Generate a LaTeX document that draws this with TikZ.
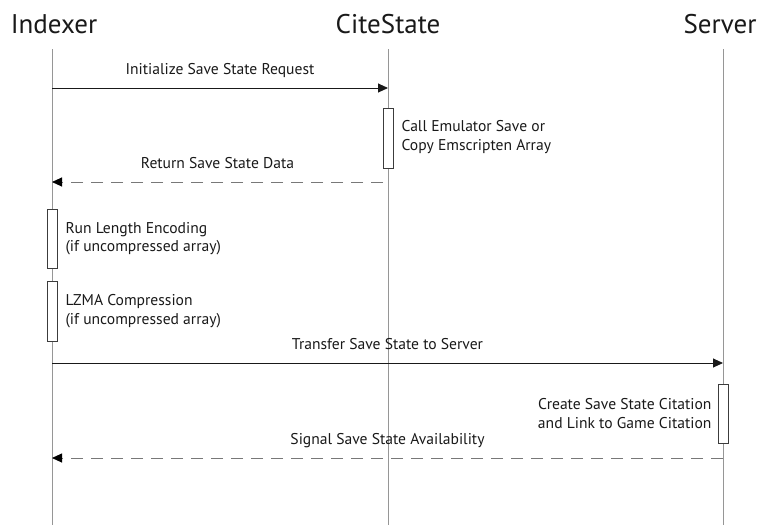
\documentclass[tikz,border=0pt]{standalone}
\usepackage{fontspec}
\setmainfont{PT Sans}
\usetikzlibrary{arrows.meta}
\definecolor{life}{RGB}{150,150,150}
\definecolor{dashc}{RGB}{120,120,120}
\definecolor{ink}{RGB}{25,25,25}
\tikzset{
  head/.style={font=\fontsize{27}{30}\selectfont, inner sep=0pt, text=ink},
  lifeline/.style={draw=life, line width=0.9pt},
  act/.style={draw=ink!85, fill=white, line width=0.8pt, minimum width=10pt, inner sep=0pt},
  msg/.style={draw=ink, line width=0.9pt, -{Triangle[length=10pt,width=9pt]}},
  ret/.style={draw=dashc, line width=0.9pt, dash pattern=on 12pt off 8pt, -{Triangle[length=10pt,width=9pt,color=black,fill=black]}},
  lbl/.style={font=\fontsize{15.6}{18.5}\selectfont, inner sep=0pt, text=ink},
  mlbl/.style={lbl, text height=11pt, text depth=3.5pt},
}
\begin{document}
\begin{tikzpicture}[x=1pt,y=-1pt]
\useasboundingbox (0,0) rectangle (761,525);
% heads
\node[head] (hI) at (54,24) {Indexer};
\node[head] (hC) at (388,24) {CiteState};
\node[head] (hS) at (720,24) {Server};
% lifeline ends
\coordinate (tI) at (52,49); \coordinate (bI) at (52,525);
\coordinate (tC) at (388,49); \coordinate (bC) at (388,525);
\coordinate (tS) at (723,49); \coordinate (bS) at (723,525);
\draw[lifeline] (tI) -- (bI);
\draw[lifeline] (tC) -- (bC);
\draw[lifeline] (tS) -- (bS);
% activations
\node[act, minimum height=60pt] (aC) at (388,138) {};
\node[act, minimum height=59pt] (aI1) at (52,238.5) {};
\node[act, minimum height=60pt] (aI2) at (52,311) {};
\node[act, minimum height=59pt] (aS) at (723,413.5) {};
% message points
\coordinate (m1s) at (52,88); \coordinate (m1e) at (388,88);
\coordinate (m2s) at (383,182); \coordinate (m2e) at (52,182);
\coordinate (m3s) at (52,363); \coordinate (m3e) at (723,363);
\coordinate (m4s) at (723,458); \coordinate (m4e) at (52,458);
\draw[msg] (m1s) -- (m1e) node[mlbl, midway, above=10pt] (l1) {Initialize Save State Request};
\draw[ret] (m2s) -- (m2e) node[mlbl, pos=0.5, above=10pt] (l2) {Return Save State Data};
\draw[msg] (m3s) -- (m3e) node[mlbl, midway, above=10pt] (l3) {Transfer Save State to Server};
\draw[ret] (m4s) -- (m4e) node[mlbl, midway, above=10pt] (l4) {Signal Save State Availability};
% activation labels
\node[lbl, anchor=west, align=left] (tC1) at ([xshift=8pt,yshift=1pt]aC.east) {Call Emulator Save or\\Copy Emscripten Array};
\node[lbl, anchor=west, align=left] (tI1) at ([xshift=8pt]aI1.east) {Run Length Encoding\\(if uncompressed array)};
\node[lbl, anchor=west, align=left] (tI2) at ([xshift=8pt]aI2.east) {LZMA Compression\\(if uncompressed array)};
\node[lbl, anchor=east, align=right] (tS1) at ([xshift=-6pt]aS.west) {Create Save State Citation\\and Link to Game Citation};
\end{tikzpicture}
\end{document}
